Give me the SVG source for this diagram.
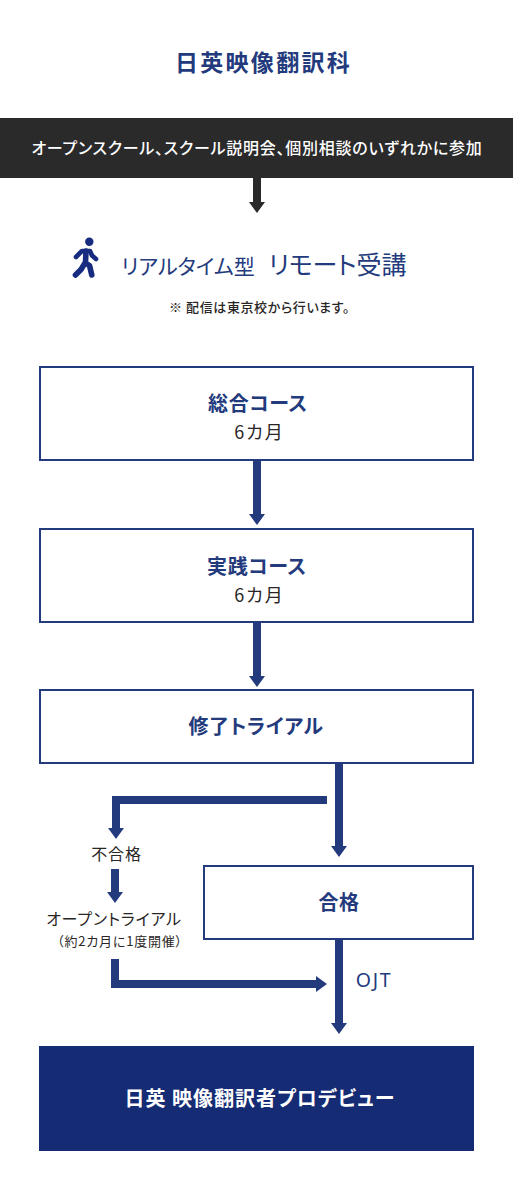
<svg xmlns="http://www.w3.org/2000/svg" width="513" height="1201" viewBox="0 0 513 1201">
<style>
text{font-family:"Noto Sans CJK JP","Noto Sans",sans-serif;text-anchor:middle;font-feature-settings:"palt"}
.b{fill:#fff;stroke:#233a7d;stroke-width:2}
.t{font-size:20px;font-weight:700;fill:#233a7d;letter-spacing:0.6px}
.s{font-size:18px;fill:#2a2626;letter-spacing:2px}
.c{fill:#172c80}
.p{fill:none;stroke:#172c80;stroke-width:4.6;stroke-linecap:round;stroke-linejoin:round}
.q{fill:none;stroke:#172c80;stroke-width:5.6;stroke-linecap:round;stroke-linejoin:round}
.l{fill:none;stroke:#233a7d;stroke-width:8}
.h{fill:#233a7d}
</style>
<rect width="513" height="1201" fill="#fff"/>
<text x="263.5" y="71" fill="#233a7d" letter-spacing="2.3" font-weight="700" style="font-size:23px">日英映像翻訳科</text>
<g id="start"><rect y="118" width="513" height="60" fill="#2a2a2a"/><text x="257" y="154" fill="#fff" font-weight="500" style="font-size:16px" letter-spacing="0.75">オープンスクール、スクール説明会、個別相談のいずれかに参加</text></g>
<g id="remote">
<circle cx="89.3" cy="241.8" r="4.2" class="c"/>
<path class="p" d="M76 257L82 251L90 251L92 255.5L96 259"/>
<path class="q" d="M86 251L85.5 263L89.5 265.5L91.8 275M85 263L81 269.5L75.5 275"/>
<text x="188" y="274" fill="#233a7d" style="font-size:21px">リアルタイム型</text>
<text x="337.5" y="274" fill="#233a7d" style="font-size:25px">リモート受講</text>
<text x="259.5" y="312" fill="#2a2626" style="font-size:13px" font-weight="500" letter-spacing="0.6">※ 配信は東京校から行います。</text>
</g>
<g id="connectors">
<path d="M257 178V203" fill="none" stroke="#2a2a2a" stroke-width="8"/><path d="M249 202H265L257 213Z" fill="#2a2a2a"/>
<path class="l" d="M257 461V515"/><path class="h" d="M249 514H265L257 525Z"/>
<path class="l" d="M257 623V677"/><path class="h" d="M249 676H265L257 687Z"/>
<path class="l" d="M339 764V847"/><path class="h" d="M331 846H347L339 857Z"/>
<path class="l" d="M327 800H116V829"/><path class="h" d="M108 828H124L116 839Z"/>
<path class="l" d="M115 869V893"/><path class="h" d="M107 892H123L115 903Z"/>
<path class="l" d="M115 959V984H317"/><path class="h" d="M316 976V992L327 984Z"/>
<path class="l" d="M339 940V1024"/><path class="h" d="M331 1023H347L339 1034Z"/>
</g>
<g id="sogo"><rect class="b" x="40" y="367" width="433" height="93"/><text class="t" x="258" y="411">総合コース</text><text class="s" x="259.5" y="439">6カ月</text></g>
<g id="jissen"><rect class="b" x="40" y="529" width="433" height="93"/><text class="t" x="257" y="574">実践コース</text><text class="s" x="259.5" y="602">6カ月</text></g>
<g id="shuryo"><rect class="b" x="40" y="690" width="433" height="73"/><text class="t" x="256" y="734">修了トライアル</text></g>
<g id="fail"><text x="116.5" y="860" fill="#2a2626" letter-spacing="0.8" style="font-size:16px">不合格</text></g>
<g id="open"><text x="114" y="925" fill="#2a2626" letter-spacing="0.8" style="font-size:16px">オープントライアル</text><text x="120" y="946" fill="#2a2626" letter-spacing="0.8" style="font-size:13px">（約2カ月に1度開催）</text></g>
<g id="pass"><rect class="b" x="204" y="866" width="269" height="73"/><text class="t" x="339" y="910">合格</text></g>
<text x="374" y="987" fill="#233a7d" letter-spacing="1.7" style="font-size:19.5px;font-family:'Noto Sans',sans-serif">OJT</text>
<g id="debut"><rect x="39" y="1046" width="435" height="105" fill="#152b73"/><text x="260" y="1106" fill="#fff" font-weight="700" style="font-size:20px" letter-spacing="1">日英 映像翻訳者プロデビュー</text></g>
</svg>
